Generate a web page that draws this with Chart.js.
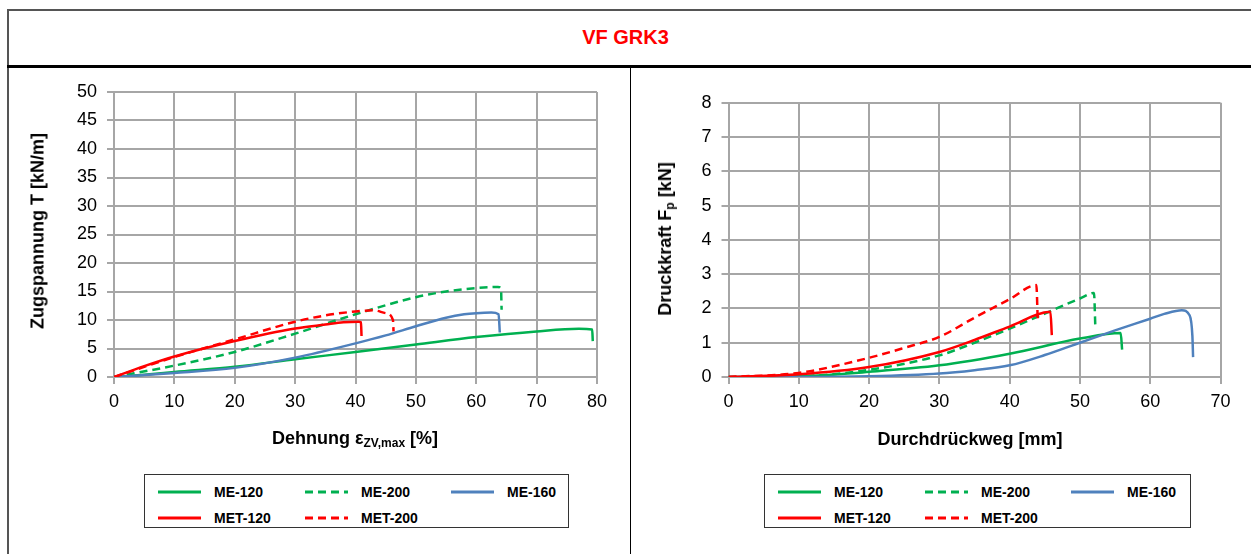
<!DOCTYPE html>
<html>
<head>
<meta charset="utf-8">
<script src="https://cdn.jsdelivr.net/npm/chart.js@4.4.1/dist/chart.umd.min.js"></script>
<style>
  body { margin: 0; background: #fff; font-family: "Liberation Sans", Arial, sans-serif; }
  #page { position: relative; width: 1251px; height: 554px; overflow: hidden; }
  .frame { position: absolute; left: 7px; top: 9px; width: 1250px; height: 560px;
           border-top: 2px solid #555; border-left: 2px solid #555; }
  .band { position: absolute; left: 7px; top: 65px; width: 1250px; height: 0; border-top: 3px solid #000; }
  .divider { position: absolute; left: 630px; top: 66px; width: 0; height: 500px; border-left: 1.5px solid #000; }
  .title { position: absolute; left: 0; width: 1251px; top: 26px; text-align: center;
           color: #ff0000; font-weight: bold; font-size: 20px; }
  canvas { position: absolute; }
  .axt { position: absolute; font-weight: bold; font-size: 18px; white-space: nowrap; color: #000; }
  .axt sub { font-size: 12px; vertical-align: -3px; }
  .rot { transform: translate(-50%, -50%) rotate(-90deg); }
  .hor { transform: translate(-50%, -50%); }
  .legend { position: absolute; top: 474px; height: 54px; border: 1.5px solid #333; box-sizing: border-box; }
  .item { position: absolute; height: 20px; display: flex; align-items: center; font-weight: bold; font-size: 14px; }
  .item svg { margin-right: 13px; }
</style>
</head>
<body>
<div id="page">
  <div class="frame"></div>
  <div class="band"></div>
  <div class="divider"></div>
  <div class="title">VF GRK3</div>

  <canvas id="left" width="620" height="400" style="left:9px; top:69px;"></canvas>
  <canvas id="right" width="616" height="400" style="left:633px; top:69px;"></canvas>

  <div class="axt rot" style="left:38px; top:231px;">Zugspannung T [kN/m]</div>
  <div class="axt hor" style="left:355px; top:439px;">Dehnung ε<sub>ZV,max</sub> [%]</div>
  <div class="axt rot" style="left:666px; top:239px;">Druckkraft F<sub>p</sub> [kN]</div>
  <div class="axt hor" style="left:970px; top:439px;">Durchdrückweg [mm]</div>

  <div id="legendLeft" class="legend" style="left:144px; width:425px;"></div>
  <div id="legendRight" class="legend" style="left:764px; width:427px;"></div>
</div>

<script>
// Zugversuch (links): Dehnung [%] / Zugspannung [kN/m]
const strainME120 = [0, 5, 10, 20, 30, 40, 50, 60, 70, 77, 79.2, 79.3];
const tensionME120 = [0, 0.4, 0.9, 1.8, 3.1, 4.4, 5.7, 7.0, 8.0, 8.45, 8.35, 6.3];
const strainME200 = [0, 10, 20, 30, 40, 50, 55, 60, 63.6, 64.1, 64.2];
const tensionME200 = [0, 2.0, 4.4, 7.6, 11.0, 14.0, 15.0, 15.6, 15.8, 15.5, 11.8];
const strainME160 = [0, 10, 20, 30, 40, 45, 50, 55, 58, 60, 62.5, 63.7, 63.9];
const tensionME160 = [0, 0.7, 1.6, 3.4, 5.9, 7.3, 8.9, 10.4, 11.0, 11.2, 11.3, 11.0, 7.8];
const strainMET120 = [0, 5, 10, 20, 30, 35, 38, 40.5, 40.9, 41.0];
const tensionMET120 = [0, 1.9, 3.6, 6.3, 8.5, 9.2, 9.6, 9.7, 9.6, 7.2];
const strainMET200 = [0, 10, 20, 30, 35, 40, 43, 45, 46.2, 46.3];
const tensionMET200 = [0, 3.5, 6.6, 9.7, 10.8, 11.5, 11.7, 11.2, 10.0, 8.0];

// Durchdrückversuch (rechts): Weg [mm] / Kraft [kN]
const travelME120 = [0, 10, 20, 30, 40, 50, 55.8, 56.0];
const forceME120 = [0, 0.02, 0.15, 0.34, 0.68, 1.12, 1.28, 0.8];
const travelME200 = [0, 10, 20, 30, 35, 40, 45, 50, 52.0, 52.2];
const forceME200 = [0, 0.02, 0.21, 0.63, 1.0, 1.41, 1.85, 2.29, 2.45, 1.41];
const travelME160 = [0, 10, 20, 30, 35, 40, 45, 50, 55, 60, 62, 64.5, 65.6, 66.0, 66.1];
const forceME160 = [0, 0, 0.02, 0.1, 0.2, 0.34, 0.64, 1.0, 1.36, 1.7, 1.84, 1.95, 1.8, 1.2, 0.58];
const travelMET120 = [0, 10, 20, 30, 35, 40, 45.8, 46.0];
const forceMET120 = [0, 0.08, 0.29, 0.73, 1.08, 1.47, 1.9, 1.22];
const travelMET200 = [0, 10, 20, 25, 30, 35, 40, 43.8, 44.0];
const forceMET200 = [0, 0.12, 0.56, 0.85, 1.17, 1.73, 2.27, 2.68, 1.65];

const seriesNames = ['ME-120', 'ME-200', 'ME-160', 'MET-120', 'MET-200'];
const seriesColors = ['#00b050', '#00b050', '#4f81bd', '#ff0000', '#ff0000'];
const seriesDashed = [false, true, false, false, true];

const leftTicksX = { min: 0, max: 80, step: 10 };
const leftTicksY = { min: 0, max: 50, step: 5 };
const rightTicksX = { min: 0, max: 70, step: 10 };
const rightTicksY = { min: 0, max: 8, step: 1 };

function zip(xs, ys) {
    return xs.map((x, i) => ({ x: x, y: ys[i] }));
}

function makeDatasets(xsList, ysList) {
    return seriesNames.map((name, i) => ({
        label: name,
        data: zip(xsList[i], ysList[i]),
        borderColor: seriesColors[i],
        borderWidth: 2.5,
        borderDash: seriesDashed[i] ? [8, 5] : [],
        pointRadius: 0,
        showLine: true,
        fill: false,
        cubicInterpolationMode: 'monotone',
        order: [4, 3, 2, 1, 0][i]
    }));
}

function axis(t, w, h, isX) {
    return {
        type: 'linear',
        min: t.min,
        max: t.max,
        ticks: {
            stepSize: t.step,
            color: '#000',
            padding: isX ? 7 : 10,
            font: { family: '"Liberation Sans", Arial, sans-serif', size: 18 }
        },
        grid: { color: '#a6a6a6', lineWidth: 2, tickLength: 7 },
        border: { color: '#a6a6a6', width: 2 },
        afterFit: s => { if (isX) s.height = h; else s.width = w; }
    };
}

function makeChart(id, datasets, tx, ty, yWidth, pad) {
    return new Chart(document.getElementById(id), {
        type: 'scatter',
        data: { datasets: datasets },
        options: {
            responsive: false,
            animation: false,
            layout: { padding: pad },
            plugins: { legend: { display: false }, tooltip: { enabled: false } },
            scales: {
                x: axis(tx, 0, 92, true),
                y: axis(ty, yWidth, 0, false)
            }
        }
    });
}

function makeLegend(chart, el) {
    const cols = [13, 160, 306];
    chart.data.datasets.forEach((ds, i) => {
        const item = document.createElement('div');
        item.className = 'item';
        item.style.left = cols[i % 3] + 'px';
        item.style.top = (i < 3 ? 7 : 33) + 'px';
        const dash = ds.borderDash.length ? 'stroke-dasharray="8,5"' : '';
        item.innerHTML = `<svg width="43" height="6"><line x1="0" y1="3" x2="43" y2="3" stroke="${ds.borderColor}" stroke-width="3" ${dash}/></svg>${ds.label}`;
        el.appendChild(item);
    });
}

const leftChart = makeChart('left',
    makeDatasets([strainME120, strainME200, strainME160, strainMET120, strainMET200],
                 [tensionME120, tensionME200, tensionME160, tensionMET120, tensionMET200]),
    leftTicksX, leftTicksY, 105, { left: 0, right: 32, top: 23, bottom: 0 });

const rightChart = makeChart('right',
    makeDatasets([travelME120, travelME200, travelME160, travelMET120, travelMET200],
                 [forceME120, forceME200, forceME160, forceMET120, forceMET200]),
    rightTicksX, rightTicksY, 95.5, { left: 0, right: 28.5, top: 33.7, bottom: 0 });

makeLegend(leftChart, document.getElementById('legendLeft'));
makeLegend(rightChart, document.getElementById('legendRight'));
</script>
</body>
</html>
